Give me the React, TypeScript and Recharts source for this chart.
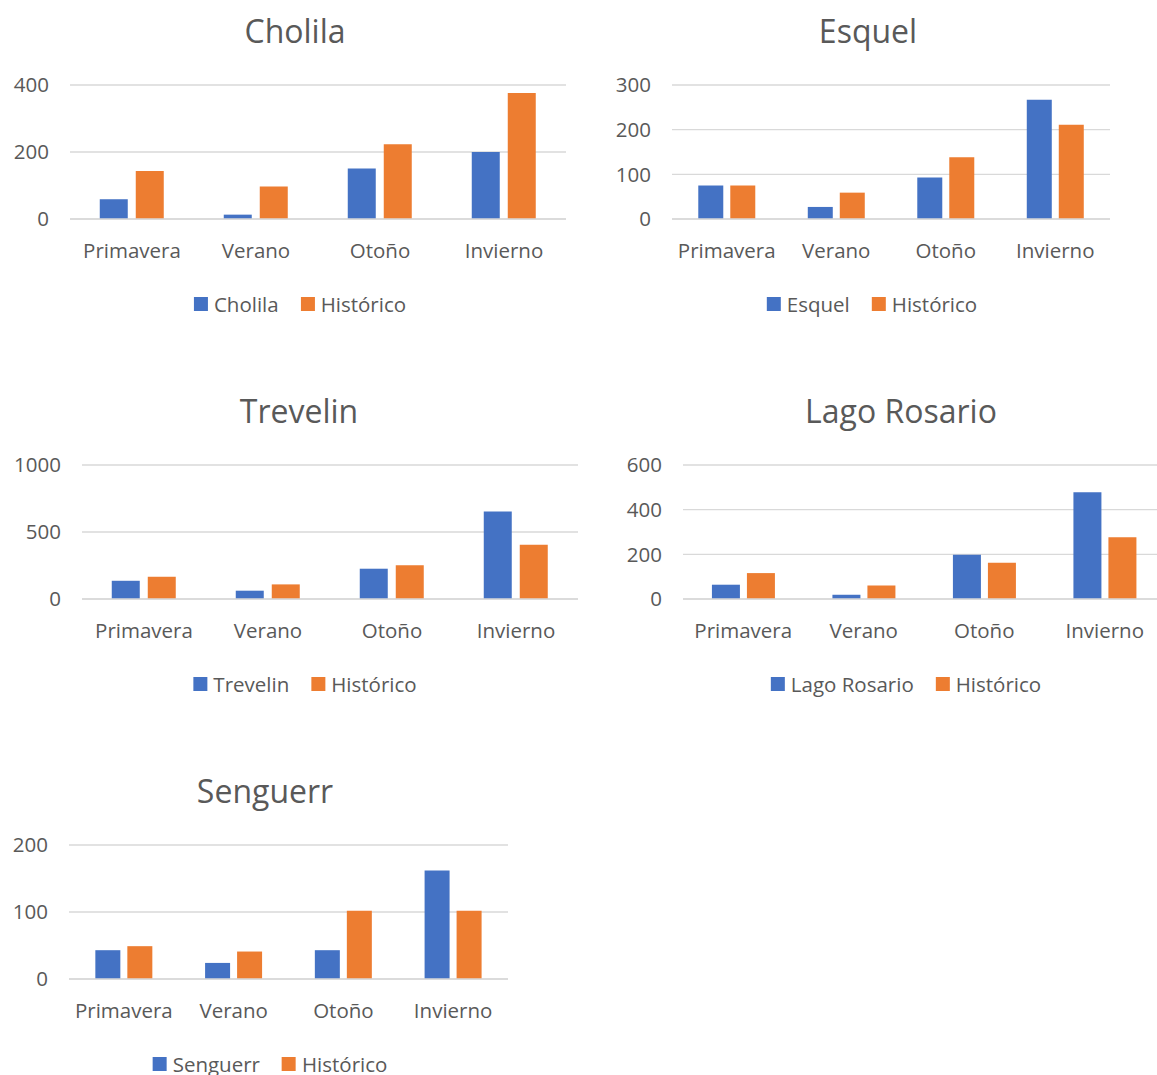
import React from 'react';
import { BarChart, Bar, XAxis, YAxis, CartesianGrid } from 'recharts';

// Seasonal rainfall by station compared with the historical mean
const seasons = ['Primavera', 'Verano', 'Otoño', 'Invierno'];
const historicoLabel = 'Histórico';

const cholila = [59, 13, 151, 200];
const cholilaHistorico = [143, 97, 223, 376];
const cholilaTicks = [0, 200, 400];

const esquel = [75, 27, 93, 267];
const esquelHistorico = [75, 59, 138, 211];
const esquelTicks = [0, 100, 200, 300];

const trevelin = [136, 62, 226, 653];
const trevelinHistorico = [166, 109, 251, 404];
const trevelinTicks = [0, 500, 1000];

const lagoRosario = [64, 19, 198, 478];
const lagoRosarioHistorico = [116, 60, 162, 277];
const lagoRosarioTicks = [0, 200, 400, 600];

const senguerr = [43, 24, 43, 162];
const senguerrHistorico = [49, 41, 102, 102];
const senguerrTicks = [0, 100, 200];

const BLUE = '#4472C4';
const ORANGE = '#ED7D31';
const TEXT = '#595959';
const GRID = '#d9d9d9';
const FONT = "'Open Sans', sans-serif";
const LABEL_SIZE = 20.5;

const Y_AXIS_W = 70;
const RIGHT_PAD = 20;
const TOP_PAD = 85;
const PLOT_H = 134;
const X_AXIS_H = 50;

type PanelCfg = {
  title: string;
  values: number[];
  historic: number[];
  ticks: number[];
  plotLeft: number;
  plotRight: number;
  plotTop: number;
  titleX: number;
  legendX: number;
  barGap: number;
};

const panels: PanelCfg[] = [
  { title: 'Cholila', values: cholila, historic: cholilaHistorico, ticks: cholilaTicks,
    plotLeft: 70, plotRight: 566, plotTop: 85, titleX: 295, legendX: 300, barGap: 8 },
  { title: 'Esquel', values: esquel, historic: esquelHistorico, ticks: esquelTicks,
    plotLeft: 672, plotRight: 1110, plotTop: 85, titleX: 868, legendX: 872, barGap: 7 },
  { title: 'Trevelin', values: trevelin, historic: trevelinHistorico, ticks: trevelinTicks,
    plotLeft: 82, plotRight: 578, plotTop: 465, titleX: 299, legendX: 305, barGap: 8 },
  { title: 'Lago Rosario', values: lagoRosario, historic: lagoRosarioHistorico, ticks: lagoRosarioTicks,
    plotLeft: 683, plotRight: 1165, plotTop: 465, titleX: 901, legendX: 906, barGap: 7 },
  { title: 'Senguerr', values: senguerr, historic: senguerrHistorico, ticks: senguerrTicks,
    plotLeft: 69, plotRight: 508, plotTop: 845, titleX: 265, legendX: 270, barGap: 7 },
];

function LegendItem({ color, label }: { color: string; label: string }) {
  return (
    <span style={{ display: 'inline-flex', alignItems: 'center', marginRight: 22 }}>
      <span style={{ width: 14, height: 14, background: color, display: 'inline-block', marginRight: 6 }} />
      <span>{label}</span>
    </span>
  );
}

function Panel({ cfg }: { cfg: PanelCfg }) {
  const left = cfg.plotLeft - Y_AXIS_W;
  const width = cfg.plotRight - left + RIGHT_PAD;
  const top = cfg.plotTop - TOP_PAD;
  const data = seasons.map((s, i) => ({
    season: s,
    estacion: cfg.values[i],
    historico: cfg.historic[i],
  }));
  const max = cfg.ticks[cfg.ticks.length - 1];
  const tickStyle = { fill: TEXT, fontSize: LABEL_SIZE, fontFamily: FONT };
  return (
    <div style={{ position: 'absolute', left, top, width, height: 380 }}>
      <div
        style={{
          position: 'absolute',
          top: 9,
          left: cfg.titleX - left,
          transform: 'translateX(-50%)',
          fontSize: 32,
          lineHeight: '44px',
          whiteSpace: 'nowrap',
          color: TEXT,
        }}
      >
        {cfg.title}
      </div>
      <BarChart
        width={width}
        height={TOP_PAD + PLOT_H + X_AXIS_H}
        data={data}
        margin={{ top: TOP_PAD, right: RIGHT_PAD, left: 0, bottom: 0 }}
        barCategoryGap="24%"
        barGap={cfg.barGap}
      >
        <CartesianGrid vertical={false} stroke={GRID} strokeWidth={1.3} />
        <XAxis
          dataKey="season"
          interval={0}
          height={X_AXIS_H}
          axisLine={{ stroke: GRID, strokeWidth: 1.3 }}
          tickLine={false}
          tickSize={0}
          tickMargin={24}
          tick={tickStyle}
        />
        <YAxis
          type="number"
          width={Y_AXIS_W}
          domain={[0, max]}
          ticks={cfg.ticks}
          interval={0}
          axisLine={false}
          tickLine={false}
          tickSize={0}
          tickMargin={21}
          tick={tickStyle}
        />
        <Bar dataKey="estacion" name={cfg.title} fill={BLUE} isAnimationActive={false} />
        <Bar dataKey="historico" name={historicoLabel} fill={ORANGE} isAnimationActive={false} />
      </BarChart>
      <div
        style={{
          position: 'absolute',
          top: TOP_PAD + PLOT_H + 85 - 14,
          left: cfg.legendX - left + 11,
          transform: 'translateX(-50%)',
          fontSize: LABEL_SIZE,
          lineHeight: '28px',
          whiteSpace: 'nowrap',
          color: TEXT,
          display: 'flex',
        }}
      >
        <LegendItem color={BLUE} label={cfg.title} />
        <LegendItem color={ORANGE} label={historicoLabel} />
      </div>
    </div>
  );
}

export default function App() {
  return (
    <div
      style={{
        position: 'absolute',
        left: 0,
        top: 0,
        width: 1157,
        height: 1075,
        overflow: 'hidden',
        background: '#ffffff',
        fontFamily: FONT,
      }}
    >
      {panels.map((p) => (
        <Panel key={p.title} cfg={p} />
      ))}
    </div>
  );
}
